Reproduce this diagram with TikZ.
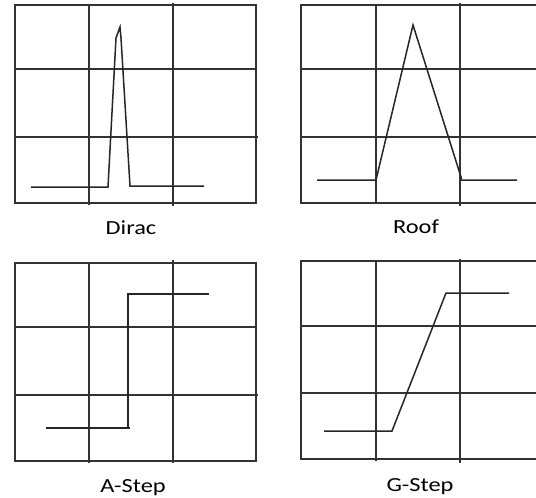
\documentclass[tikz,border=0pt]{standalone}
\usepackage{fontspec}
\setmainfont{Carlito}
\begin{document}
\begin{tikzpicture}[x=1pt,y=-1pt,
  gridline/.style={line width=1.6pt,draw=black!80},
  signal/.style={line width=1.5pt,draw=black!85,line join=miter},
  caption/.style={font=\fontsize{20}{24}\selectfont,text=black,xscale=1.22,inner sep=0pt,anchor=center}]
\useasboundingbox[fill=white] (0,0) rectangle (536,498);
% ---- Dirac panel
\draw[gridline] (15,5) rectangle (256,203);
\draw[gridline] (89,5) -- (89,205);
\draw[gridline] (173,3) -- (173,206);
\draw[gridline] (15,69) -- (256,69);
\draw[gridline] (15,137) -- (258,137);
\draw[signal] (31,187) -- (108,187) -- (116,38) -- (120,27) -- (121,38) -- (130,186) -- (204,186);
\node[caption] (dirac) at (131,228) {Dirac};
% ---- Roof panel
\draw[gridline] (536,5) -- (301,5) -- (301,203) -- (536,203);
\draw[gridline] (376,5) -- (376,204);
\draw[gridline] (460,3) -- (460,206);
\draw[gridline] (301,69) -- (536,69);
\draw[gridline] (301,137) -- (536,137);
\draw[signal] (317,180) -- (376,180) -- (413,25) -- (461,177) -- (461,180) -- (517,180);
\node[caption] (roof) at (416,227) {Roof};
% ---- A-Step panel
\draw[gridline] (15,263) rectangle (256,461);
\draw[gridline] (89,263) -- (89,463);
\draw[gridline] (173,260) -- (173,463);
\draw[gridline] (15,327) -- (256,327);
\draw[gridline] (15,395) -- (258,395);
\draw[signal] (46,428) -- (130,428);
\draw[signal] (128,428) -- (128,294) -- (209,294);
\node[caption] (astep) at (133,488) {A-Step};
% ---- G-Step panel
\draw[gridline] (536,261) -- (301,261) -- (301,459) -- (536,459);
\draw[gridline] (376,261) -- (376,461);
\draw[gridline] (460,259) -- (460,463);
\draw[gridline] (301,326) -- (536,326);
\draw[gridline] (301,393) -- (536,393);
\draw[signal] (324,431) -- (392,431) -- (446,293) -- (509,293);
\node[caption] (gstep) at (420,487) {G-Step};
\end{tikzpicture}
\end{document}
